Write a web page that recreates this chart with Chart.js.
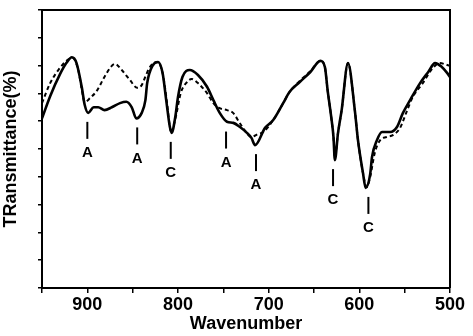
<!DOCTYPE html>
<html>
<head>
<meta charset="utf-8">
<script src="https://cdn.jsdelivr.net/npm/chart.js@4/dist/chart.umd.min.js"></script>
<style>
  html, body { margin: 0; padding: 0; background: #fff; }
  #wrap { width: 473px; height: 336px; position: relative; }
</style>
</head>
<body>
<div id="wrap"><canvas id="ir" width="473" height="336"></canvas></div>
<script>
// IR transmittance spectra (wavenumber, cm-1 -> transmittance, %)
const solidWn = [950, 941, 930, 923, 917, 912, 906, 903, 899, 893, 888, 881, 873, 864, 857, 851, 846, 840, 836, 834,
  828, 822, 817, 813, 809, 807, 803, 800, 795, 787, 778, 768, 761, 754, 746, 739, 732, 724, 719, 715,
  704, 695, 684, 677, 666, 654, 643, 638, 635, 631, 628.5, 627, 623.5, 619.5, 612.5, 605, 601.5, 596, 593,
  588, 586, 580.5, 575, 566, 558.5, 552, 544, 533, 524, 516.5, 509, 503, 500];
const solidT = [61, 69, 77, 81, 83, 81, 72, 66, 63, 65, 65, 64, 65, 66.5, 67, 65, 61, 63, 67.5, 73.7,
  80, 81.3, 77.3, 67.6, 58, 55.8, 61.5, 68.7, 76, 78.4, 76.6, 72.4, 67.6, 63, 59.8, 59.4, 58, 55.8, 54, 51.4,
  57.6, 60.4, 66.5, 70.5, 74, 77.7, 81.7, 79.5, 71.2, 61.5, 54.3, 46, 55.8, 64, 80.9, 64, 53.2, 41.4, 36,
  41, 47.1, 53.2, 56.1, 56.1, 57.9, 62.9, 67.6, 73.7, 77.7, 80.9, 79.5, 77.3, 75.9];

const dashedWn = [950, 941, 932, 922, 916, 910, 906, 903, 897, 889, 883, 875, 869.5, 862, 853, 845, 840, 836, 831, 823,
  817, 812.5, 809, 807, 806, 802, 797, 790, 785, 778, 768, 761, 754, 746, 739, 732, 725, 719, 712, 706,
  695, 684, 677, 666, 654, 643, 638, 635, 631, 628.5, 627, 623.5, 619.5, 612.5, 605, 601.5, 596, 592,
  588, 583, 577, 570, 563, 555, 548, 541, 530, 519, 511, 503, 500];
const dashedT = [66.5, 73.7, 78.4, 82, 82.7, 78.4, 71.2, 66.9, 68.3, 71.2, 74.8, 79.1, 80.6, 78.4, 74.8, 72, 73, 76, 79.5, 81.3,
  77.3, 67.6, 58, 55.8, 56.8, 62.2, 70.1, 74.1, 75.2, 73.7, 70.1, 66.5, 64.7, 64, 62.9, 59.4, 56.1, 54.3, 55.4, 56.1,
  60.4, 66.5, 70.5, 74.4, 78, 81.7, 79.5, 71.2, 61.5, 54.3, 47, 55.8, 64, 80.9, 64, 53.2, 41.4, 36.3,
  40, 48.6, 53.2, 54.3, 55, 57.6, 63.3, 68.7, 73.7, 79.1, 80.9, 80.2, 79.9];

// Band assignments marked under the absorption minima
const markerWn = [900, 845, 808, 747, 714, 629, 590];
const markerText = ['A', 'A', 'C', 'A', 'A', 'C', 'C'];

// Labelled wavenumbers on the x axis
const xTickLabels = [900, 800, 700, 600, 500];

const FONT = "'Liberation Sans', Arial, Helvetica, sans-serif";

function toPoints(xs, ys) { return xs.map((x, i) => ({ x: x, y: ys[i] })); }

function interp(xs, ys, w) {
  for (let i = 0; i < xs.length - 1; i++) {
    const a = xs[i], b = xs[i + 1];
    if ((w <= a && w >= b) || (w >= a && w <= b)) {
      const t = (w - a) / (b - a || 1);
      return ys[i] + t * (ys[i + 1] - ys[i]);
    }
  }
  return null;
}

// lowest transmittance of either trace around a band position
function bandLevel(w) {
  let low = Infinity;
  for (let d = -6; d <= 6; d += 0.5) {
    const a = interp(solidWn, solidT, w + d);
    const b = interp(dashedWn, dashedT, w + d);
    if (a !== null) low = Math.min(low, a);
    if (b !== null) low = Math.min(low, b);
  }
  return low;
}

const frameAndMarkers = {
  id: 'frameAndMarkers',
  afterDatasetsDraw(chart) {
    const { ctx, chartArea: ca, scales } = chart;
    ctx.save();
    ctx.strokeStyle = '#000';
    ctx.lineWidth = 2;
    ctx.beginPath();
    ctx.moveTo(ca.left, ca.top);
    ctx.lineTo(ca.right, ca.top);
    ctx.lineTo(ca.right, ca.bottom);
    ctx.stroke();

    ctx.fillStyle = '#000';
    ctx.font = 'bold 15px ' + FONT;
    ctx.textAlign = 'center';
    ctx.textBaseline = 'middle';
    markerWn.forEach((w, i) => {
      const px = scales.x.getPixelForValue(w);
      const py = scales.y.getPixelForValue(bandLevel(w));
      ctx.beginPath();
      ctx.lineWidth = 2;
      ctx.moveTo(px, py + 9);
      ctx.lineTo(px, py + 26);
      ctx.stroke();
      ctx.fillText(markerText[i], px, py + 40);
    });
    ctx.restore();
  }
};

new Chart(document.getElementById('ir'), {
  type: 'line',
  data: {
    datasets: [
      {
        label: 'solid',
        data: toPoints(solidWn, solidT),
        borderColor: '#000',
        borderWidth: 2.6,
        pointRadius: 0,
        fill: false,
        cubicInterpolationMode: 'monotone'
      },
      {
        label: 'dashed',
        data: toPoints(dashedWn, dashedT),
        borderColor: '#000',
        borderWidth: 2,
        borderDash: [4, 3],
        pointRadius: 0,
        fill: false,
        cubicInterpolationMode: 'monotone'
      }
    ]
  },
  options: {
    responsive: false,
    animation: false,
    layout: { padding: { top: 10, right: 23, left: 0, bottom: 0 } },
    plugins: { legend: { display: false }, tooltip: { enabled: false } },
    scales: {
      x: {
        type: 'linear',
        reverse: true,
        min: 500,
        max: 950,
        ticks: {
          stepSize: 50,
          autoSkip: false,
          maxRotation: 0,
          color: '#000',
          padding: 1,
          font: { family: FONT, size: 18, weight: 'bold' },
          callback: v => xTickLabels.includes(v) ? String(v) : ''
        },
        grid: { drawOnChartArea: false, drawTicks: true, tickLength: 5, color: '#000', lineWidth: 1.5 },
        border: { display: true, color: '#000', width: 2 },
        title: {
          display: true,
          text: 'Wavenumber',
          color: '#000',
          font: { family: FONT, size: 18, weight: 'bold' },
          padding: { top: 0, bottom: 1 }
        },
        afterFit: s => { s.height = 48; }
      },
      y: {
        min: 0,
        max: 100,
        ticks: { stepSize: 10, display: false },
        grid: { drawOnChartArea: false, drawTicks: true, tickLength: 4, color: '#000', lineWidth: 1.5 },
        border: { display: true, color: '#000', width: 2 },
        title: {
          display: true,
          text: 'TRansmittance(%)',
          color: '#000',
          font: { family: FONT, size: 18, weight: 'bold' },
          padding: { top: 0, bottom: 0 }
        },
        afterFit: s => { s.width = 42; }
      }
    }
  },
  plugins: [frameAndMarkers]
});
</script>
</body>
</html>
